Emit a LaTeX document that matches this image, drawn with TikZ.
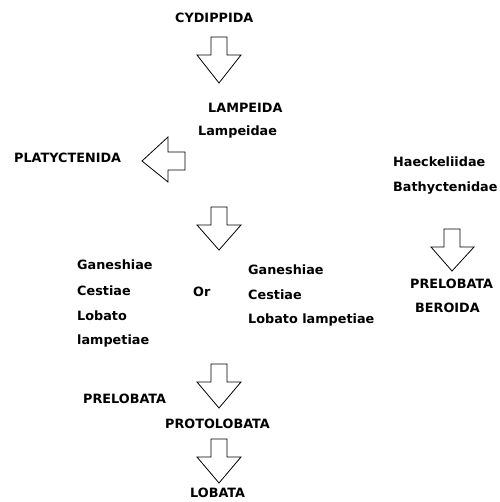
\documentclass[tikz,border=0pt]{standalone}
\usepackage{fontspec}
\setmainfont{DejaVu Sans}
\begin{document}
\begin{tikzpicture}[x=1pt,y=-1pt,
  lbl/.style={anchor=base west,inner sep=0pt,font=\fontsize{12.8}{15}\selectfont\bfseries},
  blk/.style={draw=black,line width=0.8pt,fill=white,line join=miter}]
\useasboundingbox (0,0) rectangle (499,502);
% texts
\node[lbl] (cyd) at (175,23) {CYDIPPIDA};
\node[lbl] (lamp) at (208,113) {LAMPEIDA};
\node[lbl] (lampf) at (198,136) {Lampeidae};
\node[lbl] (platy) at (14,163) {PLATYCTENIDA};
\node[lbl] (haeck) at (393,167) {Haeckeliidae};
\node[lbl] (bathy) at (393,192) {Bathyctenidae};
\node[lbl] (gan1) at (77,269) {Ganeshiae};
\node[lbl] (ces1) at (77,295) {Cestiae};
\node[lbl] (lob1) at (77,320) {Lobato};
\node[lbl] (lmp1) at (77,344) {lampetiae};
\node[lbl] (or) at (193,296) {Or};
\node[lbl] (gan2) at (248,274) {Ganeshiae};
\node[lbl] (ces2) at (248,299) {Cestiae};
\node[lbl] (lob2) at (248,323) {Lobato lampetiae};
\node[lbl] (prer) at (410,288) {PRELOBATA};
\node[lbl] (ber) at (415,312) {BEROIDA};
\node[lbl] (prel) at (83,403) {PRELOBATA};
\node[lbl] (proto) at (165,428) {PROTOLOBATA};
\node[lbl] (lob) at (190,497) {LOBATA};
% block arrows
\draw[blk] (211,37) -- (227,37) -- (227,55) -- (241,55) -- (219,83) -- (197,55) -- (211,55) -- cycle;
\draw[blk] (211,207) -- (227,207) -- (227,225) -- (241,225) -- (219,250) -- (197,225) -- (211,225) -- cycle;
\draw[blk] (211,364) -- (227,364) -- (227,382) -- (241,382) -- (219,408) -- (197,382) -- (211,382) -- cycle;
\draw[blk] (211,439) -- (227,439) -- (227,457) -- (241,457) -- (219,483) -- (197,457) -- (211,457) -- cycle;
\draw[blk] (444,229) -- (460,229) -- (460,247) -- (474,247) -- (452,271) -- (431,247) -- (444,247) -- cycle;
\draw[blk] (185,152) -- (185,170) -- (168,170) -- (168,182) -- (142,161) -- (168,137) -- (168,152) -- cycle;
\end{tikzpicture}
\end{document}
